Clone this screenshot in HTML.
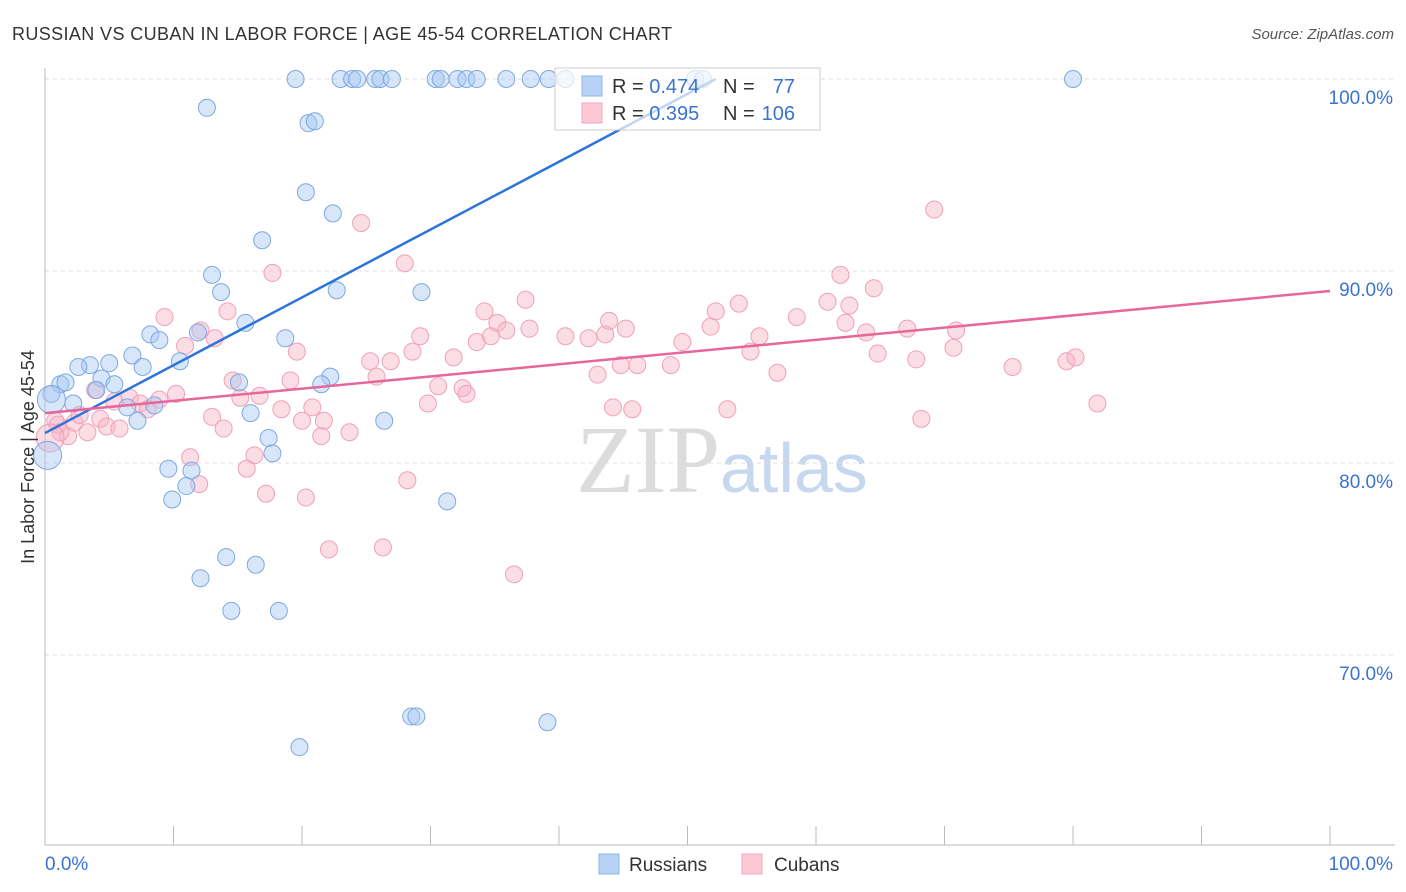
<!DOCTYPE html>
<html><head><meta charset="utf-8"><style>
body{margin:0;background:#fff;font-family:"Liberation Sans",sans-serif;}
svg{display:block}
</style></head><body>
<svg id="chart" width="1406" height="892">
<text x="12" y="40" font-size="18" fill="#333" textLength="660">RUSSIAN VS CUBAN IN LABOR FORCE | AGE 45-54 CORRELATION CHART</text>
<text x="1394" y="39" font-size="15" fill="#555" font-style="italic" text-anchor="end">Source: ZipAtlas.com</text>
<text x="720" y="492" font-size="96" fill="#dcdcdc" font-family="Liberation Serif,serif" text-anchor="end">ZIP</text>
<text x="720" y="492" font-size="70" fill="#c6d8f0">atlas</text>
<g id="grid"></g><g id="pts"></g><g id="lines"></g>
<text transform="translate(34,457) rotate(-90)" font-size="18" fill="#333" text-anchor="middle">In Labor Force | Age 45-54</text>
<g>
<rect x="555" y="68" width="265" height="62" fill="#fff" fill-opacity="0.7" stroke="#ccc"/>
<rect x="582" y="76" width="20" height="20" fill="#b7d2f5" stroke="#8fb4e8"/>
<rect x="582" y="103" width="20" height="20" fill="#fbc8d6" stroke="#f2a6bd"/>
<text x="612" y="93" font-size="20" fill="#333">R = <tspan fill="#3b73d1">0.474</tspan></text>
<text x="723" y="93" font-size="20" fill="#333">N = </text><text x="795" y="93" font-size="20" fill="#3b73d1" text-anchor="end">77</text>
<text x="612" y="120" font-size="20" fill="#333">R = <tspan fill="#3b73d1">0.395</tspan></text>
<text x="723" y="120" font-size="20" fill="#333">N = </text><text x="795" y="120" font-size="20" fill="#3b73d1" text-anchor="end">106</text>
</g>
<g>
<rect x="599" y="854" width="20" height="20" fill="#b7d2f5" stroke="#8fb4e8"/>
<text x="629" y="871" font-size="19" fill="#333">Russians</text>
<rect x="742" y="854" width="20" height="20" fill="#fbc8d6" stroke="#f2a6bd"/>
<text x="774" y="871" font-size="19" fill="#333">Cubans</text>
</g>
</svg>
<script>
const yTicks=[100,90,80,70];
const yTickLabels=["100.0%","90.0%","80.0%","70.0%"];
const xTickLabels=["0.0%","100.0%"];
const russians=[[19.5,100],[23.0,100],[23.9,100],[24.3,100],[25.7,100],[26.1,100],[27.0,100],[30.4,100],[30.8,100],[32.1,100],[32.8,100],[33.6,100],[35.9,100],[37.8,100],[39.2,100],[40.5,100],[50.6,100],[51.2,100],[80.0,100],
[12.6,98.5],[20.5,97.7],[21.0,97.8],[20.3,94.1],[22.4,93.0],[16.9,91.6],[13.0,89.8],[13.7,88.9],[22.7,89.0],[29.3,88.9],[15.6,87.3],[11.9,86.8],[18.7,86.5],[8.2,86.7],[8.9,86.4],[10.5,85.3],[6.8,85.6],[5.0,85.2],[3.5,85.1],[2.6,85.0],[7.6,85.0],[1.2,84.1],[1.6,84.2],[4.4,84.4],[5.4,84.1],[4.0,83.8],[22.2,84.5],[21.5,84.1],[15.1,84.2],[0.5,83.6],[2.2,83.1],[6.4,82.9],[8.5,83.0],[16.0,82.6],[7.2,82.2],[26.4,82.2],[17.4,81.3],[17.7,80.5],[9.6,79.7],[11.4,79.6],[11.0,78.8],[9.9,78.1],[31.3,78.0],[14.1,75.1],[16.4,74.7],[12.1,74.0],[14.5,72.3],[18.2,72.3],[28.5,66.8],[28.9,66.8],[39.1,66.5],[19.8,65.2]];
const russiansBig=[[0.5,83.3],[0.2,80.4]];
const cubans=[[0.8,82.2],[1.0,82.0],[1.8,81.4],[2.3,82.1],[1.2,81.6],[3.3,81.6],[2.7,82.5],[4.3,82.3],[4.8,81.9],[5.8,81.8],[3.9,83.8],[5.4,83.2],[6.6,83.4],[7.4,83.1],[8.0,82.8],[8.9,83.3],[10.2,83.6],[9.3,87.6],[10.9,86.1],[12.1,86.9],[13.2,86.5],[14.2,87.9],[13.0,82.4],[13.9,81.8],[14.6,84.3],[15.2,83.4],[16.7,83.5],[16.3,80.4],[15.7,79.7],[17.2,78.4],[12.0,78.9],[11.3,80.3],[19.1,84.3],[19.6,85.8],[18.4,82.8],[20.0,82.2],[20.8,82.9],[21.7,82.2],[21.5,81.4],[23.7,81.6],[17.7,89.9],[24.6,92.5],[20.3,78.2],[22.1,75.5],[26.3,75.6],[28.0,90.4],[25.3,85.3],[25.8,84.5],[26.9,85.3],[28.6,85.8],[29.2,86.6],[29.8,83.1],[30.6,84.0],[31.8,85.5],[32.5,83.9],[32.8,83.6],[34.2,87.9],[33.6,86.3],[34.7,86.6],[35.2,87.3],[35.9,86.9],[37.4,88.5],[37.7,87.0],[40.5,86.6],[42.3,86.5],[43.0,84.6],[43.6,86.7],[43.9,87.4],[44.8,85.1],[45.2,87.0],[46.1,85.1],[44.2,82.9],[45.7,82.8],[48.7,85.1],[49.6,86.3],[51.8,87.1],[52.2,87.9],[54.0,88.3],[54.9,85.8],[55.6,86.6],[57.0,84.7],[58.5,87.6],[53.1,82.8],[60.9,88.4],[61.9,89.8],[62.6,88.2],[62.3,87.3],[63.9,86.8],[64.5,89.1],[64.8,85.7],[67.1,87.0],[67.8,85.4],[69.2,93.2],[68.2,82.3],[70.7,86.0],[70.9,86.9],[75.3,85.0],[79.5,85.3],[80.2,85.5],[81.9,83.1],[28.2,79.1],[36.5,74.2]];
const cubansBig=[[0.4,81.3]];
const blueTrend=[[0,81.56],[52.2,100]];
const pinkTrend=[[0,82.6],[100,88.96]];
const NS="http://www.w3.org/2000/svg";
const X=v=>45+v*12.85, Y=v=>79+(100-v)*19.2;
function mk(t,a,p){const e=document.createElementNS(NS,t);for(const k in a)e.setAttribute(k,a[k]);p.appendChild(e);return e;}
const g=document.getElementById('grid');
yTicks.forEach((t,i)=>{
 const l=mk('line',{x1:45,x2:1395,y1:Y(t),y2:Y(t),stroke:'#ddd','stroke-dasharray':'4,4'},g);
 
 
 const tx=mk('text',{x:1393,y:Y(t)+25,'font-size':19,fill:'#3b73d1','text-anchor':'end'},g);
 tx.textContent=yTickLabels[i];
 
 
});
const ax=mk('line',{x1:45,x2:45,y1:68,y2:845,stroke:'#bbb'},g);


const bx=mk('line',{x1:45,x2:1395,y1:845,y2:845,stroke:'#bbb'},g);


for(let i=1;i<=10;i++){const t=mk('line',{x1:X(i*10),x2:X(i*10),y1:826,y2:845,stroke:'#bbb'},g);
 
 }
[[0,'start',45],[100,'end',1393]].forEach((d,i)=>{const t=mk('text',{x:d[2],y:870,'font-size':19,fill:'#3b73d1','text-anchor':d[1]},g);t.textContent=xTickLabels[i];
 
 });
const P=document.getElementById('pts');
function dots(arr,r,fill,stroke,name){arr.forEach(d=>{const c=mk('circle',{cx:X(d[0]),cy:Y(d[1]),r:r,fill:fill,'fill-opacity':0.45,stroke:stroke,'stroke-width':1},P);
 
 });}
dots(cubans,8.5,'#f7b3c8','#f0a0b8','cubans-point');
dots(cubansBig,14,'#f7b3c8','#f0a0b8','cubans-point');
dots(russians,8.5,'#a7c7f2','#7fa8e0','russians-point');
dots(russiansBig,14,'#a7c7f2','#7fa8e0','russians-point');
const L=document.getElementById('lines');
const b=mk('line',{x1:X(blueTrend[0][0]),y1:Y(blueTrend[0][1]),x2:X(blueTrend[1][0]),y2:Y(blueTrend[1][1]),stroke:'#2d74d9','stroke-width':2.5},L);


const p=mk('line',{x1:X(pinkTrend[0][0]),y1:Y(pinkTrend[0][1]),x2:X(pinkTrend[1][0]),y2:Y(pinkTrend[1][1]),stroke:'#e8679a','stroke-width':2.5},L);


</script>
</body></html>
